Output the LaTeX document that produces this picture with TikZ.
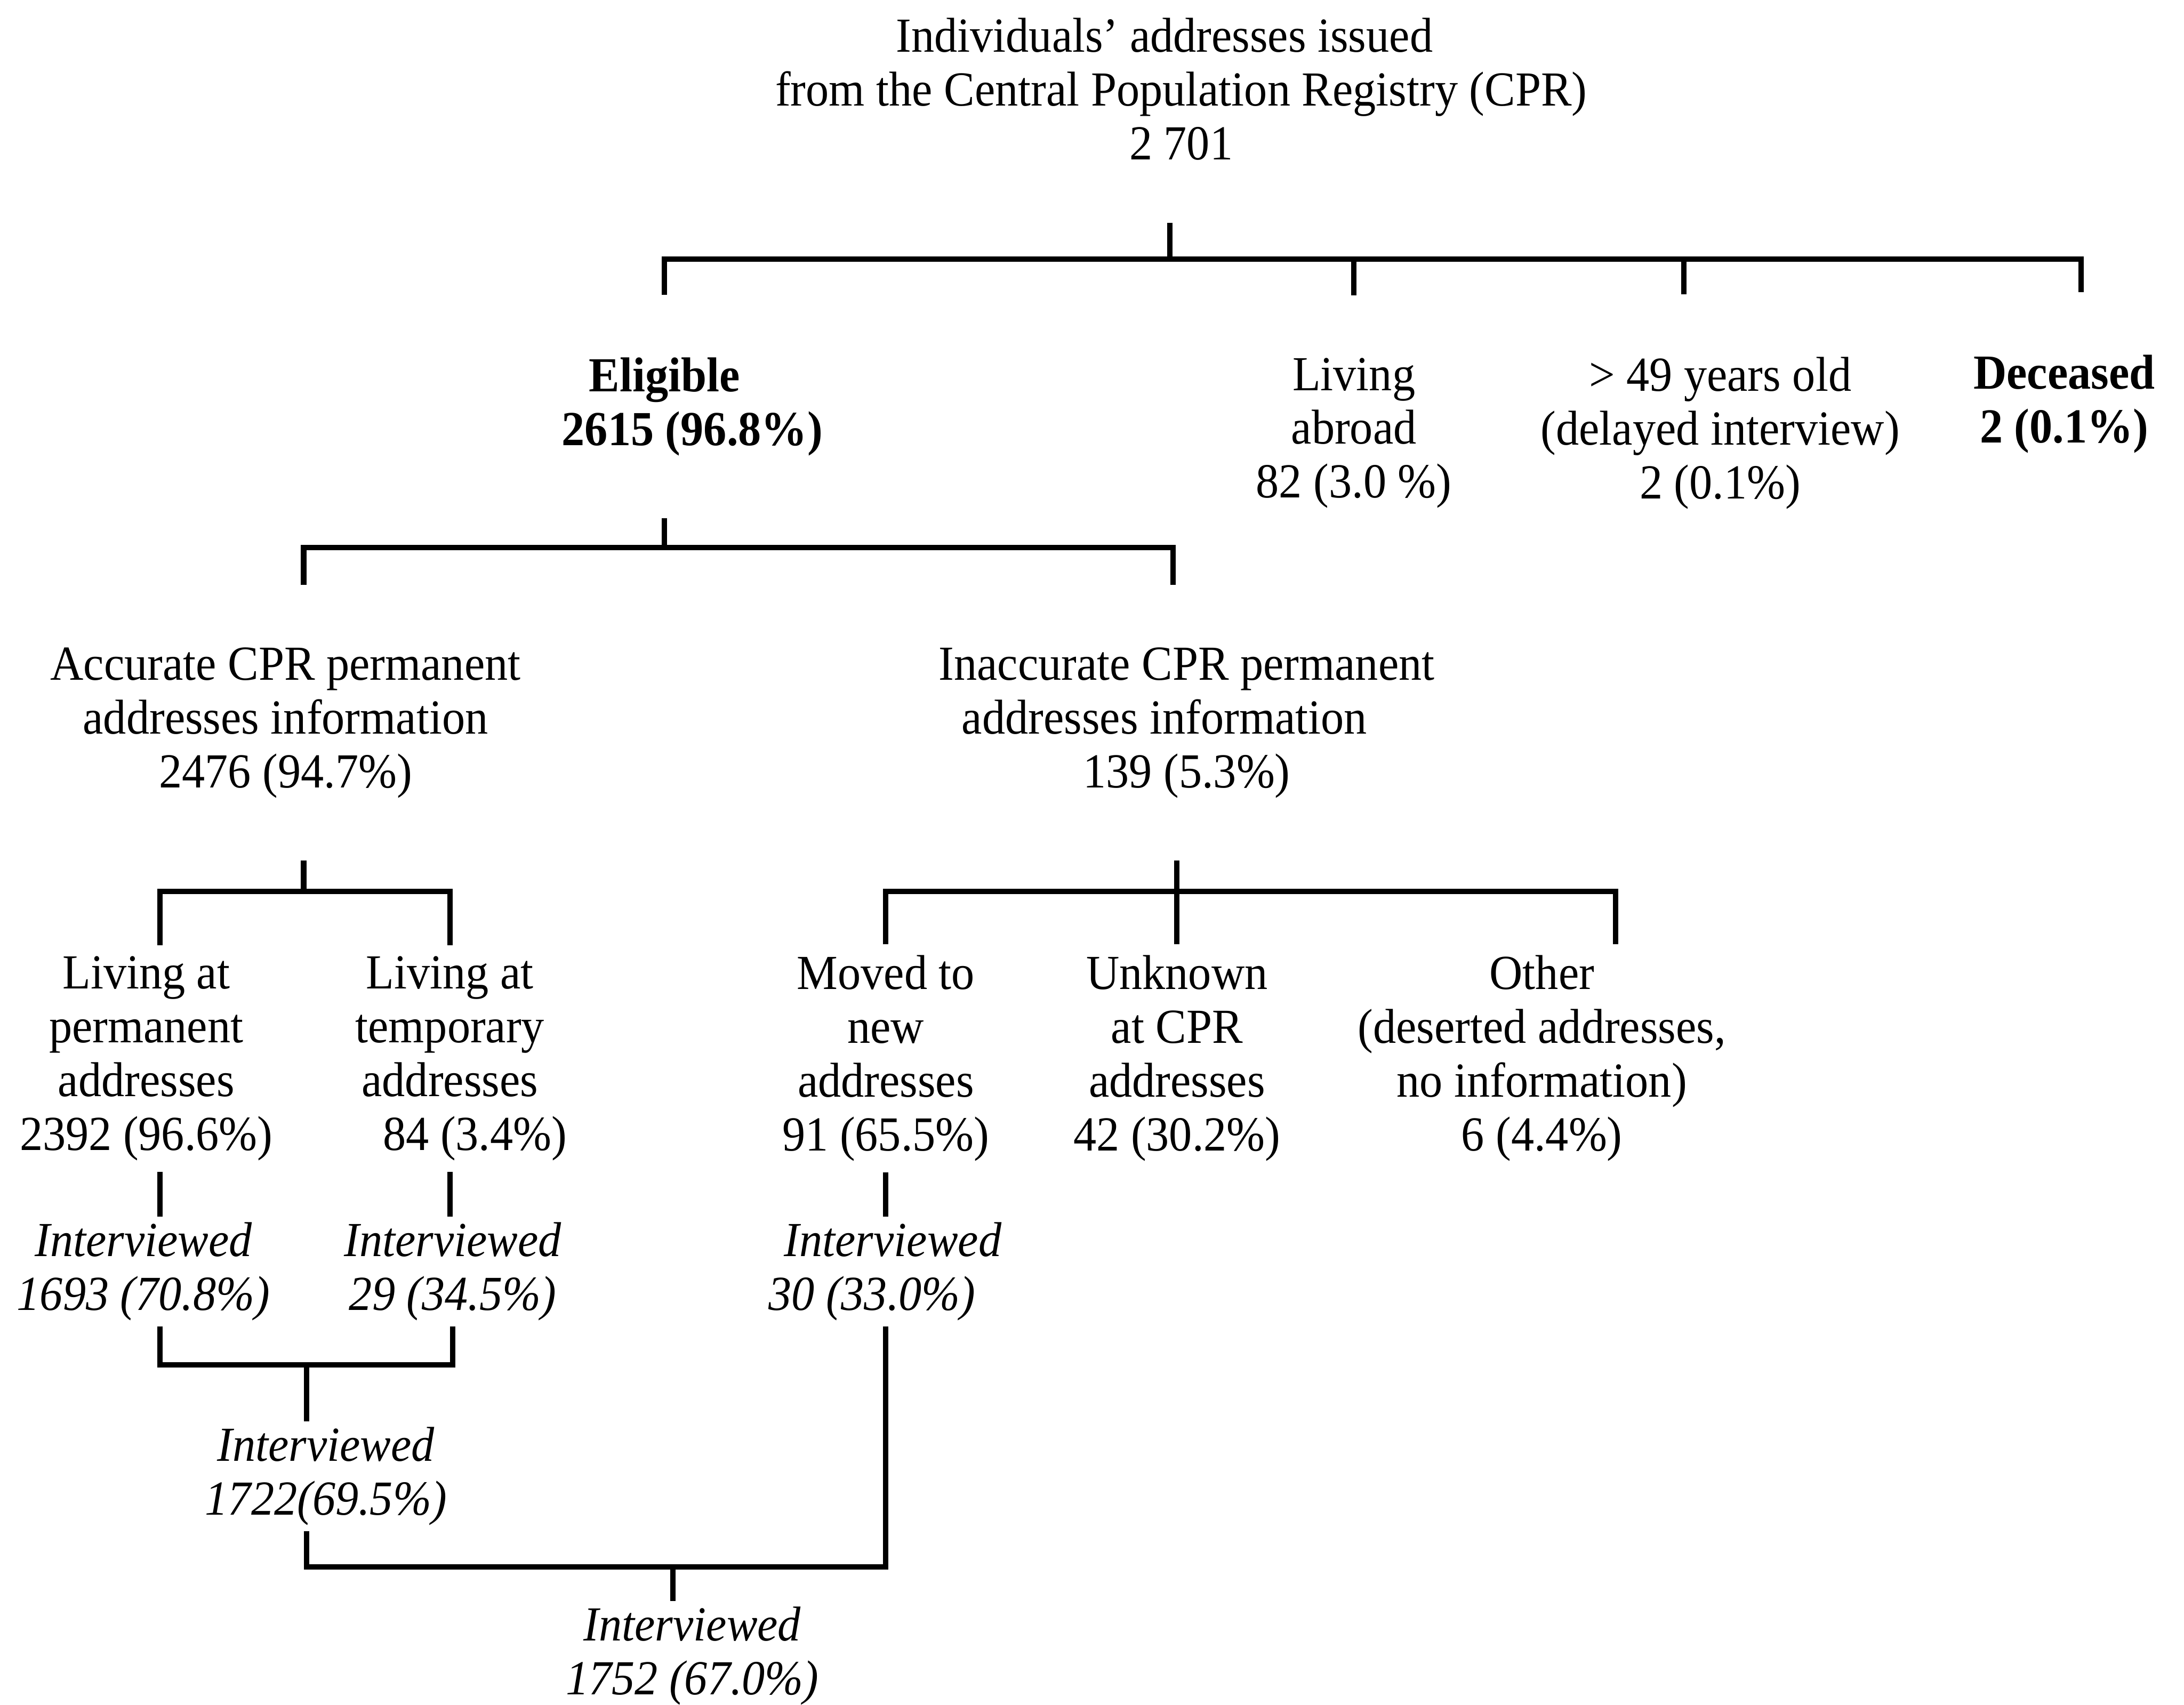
\documentclass[tikz,border=0pt]{standalone}
\usepackage{fontspec}
\setmainfont{Liberation Serif}[FakeStretch=0.94]
\begin{document}
\begin{tikzpicture}[
    txt/.style={align=center, inner sep=0pt, font=\fontsize{10}{11}\selectfont},
    bold/.style={font=\fontsize{10}{11}\selectfont\bfseries},
    big/.style={txt, outer ysep=4.5mm},
    leaf/.style={txt, outer ysep=0.8mm},
    intv/.style={txt, outer ysep=0.4mm, font=\fontsize{10}{11}\selectfont\itshape},
    link/.style={line width=1.1pt}
]
    \useasboundingbox (0,0) rectangle (15.68,12.24);

    % Registry
    \node[big] (cpr) at (8.48,11.60) {Individuals' addresses issued\hspace*{2.4mm}\mbox{}\\from the Central Population Registry (CPR)\\2 701};

    % First split
    \node[big, bold] (eligible) at (4.77,9.32) {Eligible\\\hspace*{4mm}2615 (96.8\%)};
    \node[big] (abroad) at (9.72,9.13) {Living\\abroad\\82 (3.0 \%)};
    \node[big] (older) at (12.35,9.13) {> 49 years old\\(delayed interview)\\2 (0.1\%)};
    \node[big, bold] (deceased) at (14.82,9.34) {Deceased\\2 (0.1\%)};

    \coordinate (bus1) at (8.40,10.38);
    \draw[link] (bus1 |- cpr.south) -- (bus1);
    \draw[link] (eligible.north) |- ([xshift=1.2mm]deceased.north |- bus1) -- ([xshift=1.2mm]deceased.north);
    \draw[link] (abroad.north) -- (abroad.north |- bus1);
    \draw[link] ([xshift=-2.6mm]older.north) -- ([xshift=-2.6mm]older.north |- bus1);

    % Eligible: accurate or not
    \node[big] (accurate) at (2.05,7.05) {Accurate CPR permanent\\addresses information\\2476 (94.7\%)};
    \node[big] (inaccurate) at (8.52,7.05) {Inaccurate CPR permanent\\addresses information\hspace*{3.2mm}\mbox{}\\139 (5.3\%)};

    \coordinate (bus2) at (4.77,8.31);
    \draw[link] (eligible.south) -- (eligible.south |- bus2);
    \draw[link] ([xshift=1.3mm]accurate.north) |- ([xshift=-1mm]inaccurate.north |- bus2) -- ([xshift=-1mm]inaccurate.north);

    % Where they live
    \node[leaf] (permanent) at (1.05,4.64) {Living at\\permanent\\addresses\\2392 (96.6\%)};
    \node[leaf] (temporary) at (3.23,4.64) {Living at\\temporary\\addresses\\\hspace*{3.6mm}84 (3.4\%)};
    \node[leaf] (moved) at (6.36,4.64) {Moved to\\new\\addresses\\91 (65.5\%)};
    \node[leaf] (unknown) at (8.45,4.64) {Unknown\\at CPR\\addresses\\42 (30.2\%)};
    \node[leaf] (other) at (11.07,4.64) {Other\\(deserted addresses,\\no information)\\6 (4.4\%)};

    \coordinate (bus3) at (2.18,5.84);
    \draw[link] (bus3 |- accurate.south) -- (bus3);
    \draw[link] ([xshift=1mm]permanent.north) |- (temporary.north |- bus3) -- (temporary.north);
    \draw[link] (unknown.north |- inaccurate.south) -- (unknown.north);
    \draw[link] (moved.north) |- ([xshift=5.3mm]other.north |- bus3) -- ([xshift=5.3mm]other.north);

    % Interviewed
    \node[intv] (int-perm) at (1.03,3.11) {Interviewed\\1693 (70.8\%)};
    \node[intv] (int-temp) at (3.25,3.11) {Interviewed\\29 (34.5\%)};
    \node[intv] (int-moved) at (6.41,3.11) {Interviewed\\30 (33.0\%)\hspace*{3mm}};
    \node[intv] (int-acc) at (2.34,1.64) {Interviewed\\1722(69.5\%)};
    \node[intv] (int-all) at (4.97,0.35) {Interviewed\\1752 (67.0\%)};

    \draw[link] ([xshift=1mm]permanent.south) -- ([xshift=1mm]permanent.south |- int-perm.north);
    \draw[link] (temporary.south) -- (temporary.south |- int-temp.north);
    \draw[link] (moved.south) -- (moved.south |- int-moved.north);

    \coordinate (join1) at (2.20,2.44);
    \draw[link] ([xshift=1.2mm]int-perm.south) |- (int-temp.south |- join1) -- (int-temp.south);
    \draw[link] (join1) -- (join1 |- int-acc.north);

    \coordinate (join2) at (4.83,0.99);
    \draw[link] (join1 |- int-acc.south) |- (join2) -| ([xshift=-0.5mm]int-moved.south);
    \draw[link] (join2) -- (join2 |- int-all.north);
\end{tikzpicture}
\end{document}
